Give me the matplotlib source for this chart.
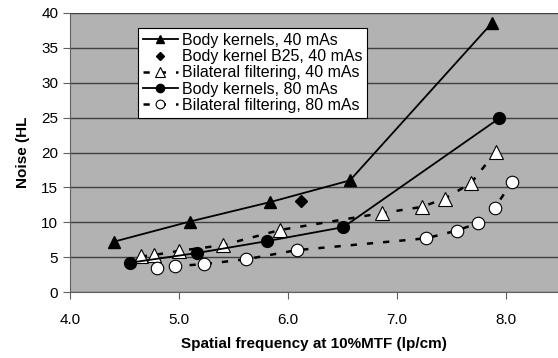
import numpy as np
import matplotlib.pyplot as plt

plt.rcParams['font.family'] = ['Liberation Sans', 'DejaVu Sans']

# Body kernels, 40 mAs
bk40_x = [4.40, 5.10, 5.84, 6.57, 7.87]
bk40_y = [7.2, 10.1, 12.9, 16.0, 38.5]
# Body kernel B25, 40 mAs
b25_x = [6.12]
b25_y = [13.0]
# Bilateral filtering, 40 mAs
bf40_x = [4.65, 4.77, 5.00, 5.40, 5.93, 6.86, 7.23, 7.44, 7.68, 7.91]
bf40_y = [5.1, 5.3, 5.9, 6.7, 8.9, 11.3, 12.2, 13.4, 15.6, 20.1]
# Body kernels, 80 mAs
bk80_x = [4.55, 5.17, 5.81, 6.51, 7.94]
bk80_y = [4.2, 5.6, 7.3, 9.3, 24.9]
# Bilateral filtering, 80 mAs
bf80_x = [4.80, 4.96, 5.23, 5.62, 6.08, 7.27, 7.55, 7.75, 7.90, 8.06]
bf80_y = [3.5, 3.7, 4.0, 4.7, 6.0, 7.7, 8.8, 9.9, 12.1, 15.8]

xticks = [4.0, 5.0, 6.0, 7.0, 8.0]
yticks = [0, 5, 10, 15, 20, 25, 30, 35, 40]

fig = plt.figure(figsize=(5.58, 3.58), dpi=100)
ax = fig.add_axes([70/558, 1-292/358, 488/558, 279/358])
ax.set_facecolor('#b2b2b2')

dash = (0, (2.5, 4))
ax.plot(bk40_x, bk40_y, color='black', lw=1.3, marker='^', ms=9, label='Body kernels, 40 mAs')
ax.plot(b25_x, b25_y, color='black', lw=0, marker='D', ms=6.5, label='Body kernel B25, 40 mAs')
ax.plot(bf40_x, bf40_y, color='black', lw=1.8, linestyle=dash, marker='^', ms=10,
        mfc='white', mec='black', mew=0.8, label='Bilateral filtering, 40 mAs')
ax.plot(bk80_x, bk80_y, color='black', lw=1.3, marker='o', ms=8.5, label='Body kernels, 80 mAs')
ax.plot(bf80_x, bf80_y, color='black', lw=1.8, linestyle=dash, marker='o', ms=9,
        mfc='white', mec='black', mew=0.8, label='Bilateral filtering, 80 mAs')

ax.set_xlim(4.0, 8.48)
ax.set_ylim(0, 40)
ax.set_xticks(xticks)
ax.set_xticklabels(['%.1f' % v for v in xticks])
ax.set_yticks(yticks)
ax.yaxis.grid(True, color='#404040', lw=1.0)
ax.set_axisbelow(True)
for s in ['top', 'right']:
    ax.spines[s].set_visible(False)
for s in ['left', 'bottom']:
    ax.spines[s].set_color('#606060')
ax.tick_params(axis='both', colors='#606060', labelcolor='black', labelsize=11, length=5)
ax.tick_params(axis='x', pad=10)

ax.set_xlabel('Spatial frequency at 10%MTF (lp/cm)', fontsize=11, fontweight='bold', labelpad=7)
ax.set_ylabel('Noise (HL', fontsize=11, fontweight='bold', labelpad=8)

leg = ax.legend(loc='upper left', bbox_to_anchor=(0.139, 0.946), fontsize=11.5,
                frameon=True, fancybox=False, framealpha=1, edgecolor='black',
                borderpad=0.3, labelspacing=0.08, handlelength=2.2, handletextpad=0.25,
                borderaxespad=0, markerscale=0.7)
leg.get_frame().set_linewidth(0.8)

fig.savefig('out.png', dpi=100)
